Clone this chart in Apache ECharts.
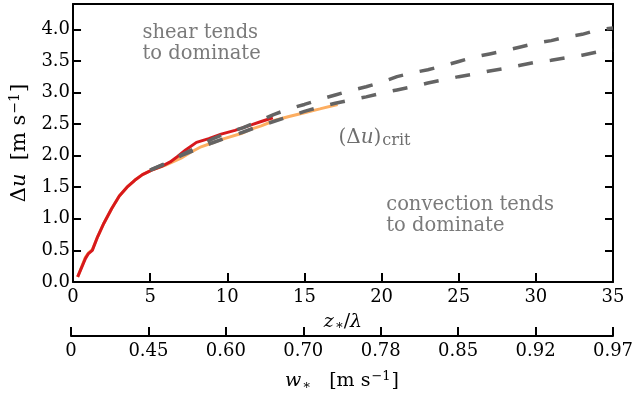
<!DOCTYPE html>
<html>
<head>
<meta charset="utf-8">
<script src="https://cdn.jsdelivr.net/npm/echarts@6/dist/echarts.min.js"></script>
<style>
  html, body { margin: 0; padding: 0; background: #fff; }
  #chart { width: 641px; height: 394px; }
</style>
</head>
<body>
<div id="chart"></div>
<script>
// Measured profile (red) and its companion estimate (orange): z*/lambda vs Delta u
const zRed = [0.3, 0.8, 1.0, 1.25, 1.6, 2.0, 2.5, 3.0, 3.5, 4.0, 4.5, 5.1, 5.75, 6.3, 6.8, 7.3, 8.0, 8.8, 9.6, 10.5, 11.6, 12.2, 12.95];
const duRed = [0.08, 0.37, 0.45, 0.50, 0.72, 0.93, 1.16, 1.36, 1.50, 1.61, 1.70, 1.77, 1.83, 1.90, 1.99, 2.09, 2.21, 2.27, 2.34, 2.40, 2.49, 2.54, 2.60];

const zOrange = [0.3, 0.8, 1.0, 1.25, 1.6, 2.0, 2.5, 3.0, 3.5, 4.0, 4.5, 5.1, 6.0, 7.0, 7.6, 8.3, 9.0, 9.8, 10.9, 11.55, 12.2, 13.1, 14.0, 15.0, 16.0, 17.15];
const duOrange = [0.08, 0.39, 0.46, 0.51, 0.72, 0.93, 1.16, 1.36, 1.50, 1.61, 1.70, 1.77, 1.85, 1.96, 2.05, 2.14, 2.20, 2.27, 2.35, 2.42, 2.47, 2.56, 2.62, 2.68, 2.74, 2.81];

// Critical shear curves (dashed)
const zCrit = [5, 6, 7, 8, 9, 10, 11, 12, 13, 14, 15, 16, 17, 18, 19, 20, 21, 22, 23, 24, 25, 26, 27, 28, 29, 30, 31, 32, 33, 34, 35];
const duCritUpper = [1.77, 1.88, 2.01, 2.13, 2.26, 2.36, 2.44, 2.54, 2.65, 2.74, 2.81, 2.89, 2.96, 3.03, 3.09, 3.16, 3.25, 3.31, 3.36, 3.42, 3.49, 3.56, 3.61, 3.66, 3.72, 3.78, 3.82, 3.88, 3.92, 3.99, 4.02];
const duCritLower = [1.77, 1.87, 2.00, 2.10, 2.20, 2.29, 2.37, 2.46, 2.54, 2.62, 2.70, 2.77, 2.83, 2.88, 2.93, 2.99, 3.04, 3.09, 3.15, 3.20, 3.25, 3.29, 3.34, 3.38, 3.43, 3.48, 3.51, 3.55, 3.59, 3.64, 3.67];

// Convective velocity scale shown under each z*/lambda tick
const wLabels = ['0', '0.45', '0.60', '0.70', '0.78', '0.85', '0.92', '0.97'];

const FONT = 'DejaVu Serif';
const TICK_SIZE = 18;
const pairs = (xs, ys) => xs.map((x, i) => [x, ys[i]]);

const chart = echarts.init(document.getElementById('chart'), null, { renderer: 'canvas' });

const mathRich = {
  n: { fontFamily: FONT, fontSize: 19, color: '#000' },
  i: { fontFamily: FONT, fontSize: 19, fontStyle: 'italic', color: '#000' },
  sub: { fontFamily: FONT, fontSize: 13, color: '#000', verticalAlign: 'bottom', padding: [7, 0, 0, 1] },
  sup: { fontFamily: FONT, fontSize: 13, color: '#000', padding: [0, 1, 9, 1] }
};
const yRich = {
  n: { fontFamily: FONT, fontSize: 21, color: '#000' },
  i: { fontFamily: FONT, fontSize: 21, fontStyle: 'italic', color: '#000' },
  sup: { fontFamily: FONT, fontSize: 14, color: '#000', padding: [0, 1, 10, 1] }
};

const dashStyle = { color: '#646464', width: 3.5, type: [15, 17], cap: 'butt' };

chart.setOption({
  animation: false,
  grid: [
    { left: 71, right: 28, top: 4, bottom: 112 },
    { left: 71, right: 28, top: 330, height: 6 }
  ],
  xAxis: [
    {
      gridIndex: 0, type: 'value', min: 0, max: 35, interval: 5,
      position: 'bottom',
      axisLine: { show: true, onZero: false, lineStyle: { color: '#000', width: 2 } },
      axisTick: { show: true, inside: true, length: 9, lineStyle: { color: '#000', width: 2 } },
      axisLabel: { fontFamily: FONT, fontSize: TICK_SIZE, color: '#000', margin: 6 },
      splitLine: { show: false },
      name: '{i|z}{sub|∗}{n|/}{i|λ}',
      nameLocation: 'middle', nameGap: 30,
      nameTextStyle: { rich: mathRich }
    },
    {
      gridIndex: 0, type: 'value', min: 0, max: 35, interval: 5,
      position: 'top',
      axisLine: { show: true, onZero: false, lineStyle: { color: '#000', width: 2 } },
      axisTick: { show: false }, axisLabel: { show: false }, splitLine: { show: false }
    },
    {
      gridIndex: 1, type: 'value', min: 0, max: 35, interval: 5,
      position: 'bottom',
      axisLine: { show: true, onZero: false, lineStyle: { color: '#000', width: 2 } },
      axisTick: { show: true, inside: true, length: 9, lineStyle: { color: '#000', width: 2 } },
      axisLabel: {
        fontFamily: FONT, fontSize: TICK_SIZE, color: '#000', margin: 6,
        formatter: v => wLabels[Math.round(v / 5)] ?? ''
      },
      splitLine: { show: false },
      name: '{i|w}{sub|∗}{n|   [m s}{sup|−1}{n|]}',
      nameLocation: 'middle', nameGap: 34,
      nameTextStyle: { rich: mathRich }
    }
  ],
  yAxis: [
    {
      gridIndex: 0, type: 'value', min: 0, max: 4.4, interval: 0.5,
      axisLine: { show: true, onZero: false, lineStyle: { color: '#000', width: 2 } },
      axisTick: { show: true, inside: true, length: 8, lineStyle: { color: '#000', width: 2 } },
      axisLabel: {
        fontFamily: FONT, fontSize: TICK_SIZE, color: '#000', margin: 3, showMaxLabel: false,
        formatter: v => v.toFixed(1)
      },
      splitLine: { show: false },
      name: '{n|Δ}{i|u}{n|  [m s}{sup|−1}{n|]}',
      nameLocation: 'middle', nameGap: 40, nameRotate: 90,
      nameTextStyle: { rich: yRich }
    },
    {
      gridIndex: 0, type: 'value', min: 0, max: 4.4, interval: 0.5, position: 'right',
      axisLine: { show: true, onZero: false, lineStyle: { color: '#000', width: 2 } },
      axisTick: { show: true, inside: true, length: 8, lineStyle: { color: '#000', width: 2 } },
      axisLabel: { show: false }, splitLine: { show: false }
    },
    { gridIndex: 1, type: 'value', show: false, min: 0, max: 1 }
  ],
  series: [
    {
      type: 'line', xAxisIndex: 0, yAxisIndex: 0, data: pairs(zOrange, duOrange),
      showSymbol: false, lineStyle: { color: '#fdae61', width: 3 }, z: 2
    },
    {
      type: 'line', xAxisIndex: 0, yAxisIndex: 0, data: pairs(zRed, duRed),
      showSymbol: false, lineStyle: { color: '#d7191c', width: 3 }, z: 3
    },
    {
      type: 'line', xAxisIndex: 0, yAxisIndex: 0, data: pairs(zCrit, duCritUpper),
      showSymbol: false, lineStyle: dashStyle, z: 4
    },
    {
      type: 'line', xAxisIndex: 0, yAxisIndex: 0, data: pairs(zCrit, duCritLower),
      showSymbol: false, lineStyle: dashStyle, z: 4
    }
  ]
});

// Region annotations, anchored in data coordinates
const notes = [
  { at: [4.5, 3.78], text: 'shear tends\nto dominate' },
  { at: [20.3, 1.05], text: 'convection tends\nto dominate' }
];
const toPx = p => chart.convertToPixel({ gridIndex: 0 }, p);
const graphics = notes.map(n => {
  const p = toPx(n.at);
  return {
    type: 'text', x: p[0], y: p[1],
    style: {
      text: n.text, fontFamily: FONT, fontSize: 19.5, fill: '#7a7a7a',
      lineHeight: 21, verticalAlign: 'middle', align: 'left'
    }
  };
});
const critPos = toPx([17.2, 2.29]);
graphics.push({
  type: 'text', x: critPos[0], y: critPos[1],
  style: {
    text: '{n|(Δ}{i|u}{n|)}{s|crit}',
    verticalAlign: 'middle', align: 'left',
    rich: {
      n: { fontFamily: FONT, fontSize: 20, fill: '#6e6e6e' },
      i: { fontFamily: FONT, fontSize: 20, fontStyle: 'italic', fill: '#6e6e6e' },
      s: { fontFamily: FONT, fontSize: 16, fill: '#6e6e6e', padding: [8, 0, 0, 1] }
    }
  }
});
chart.setOption({ graphic: graphics });
</script>
</body>
</html>
